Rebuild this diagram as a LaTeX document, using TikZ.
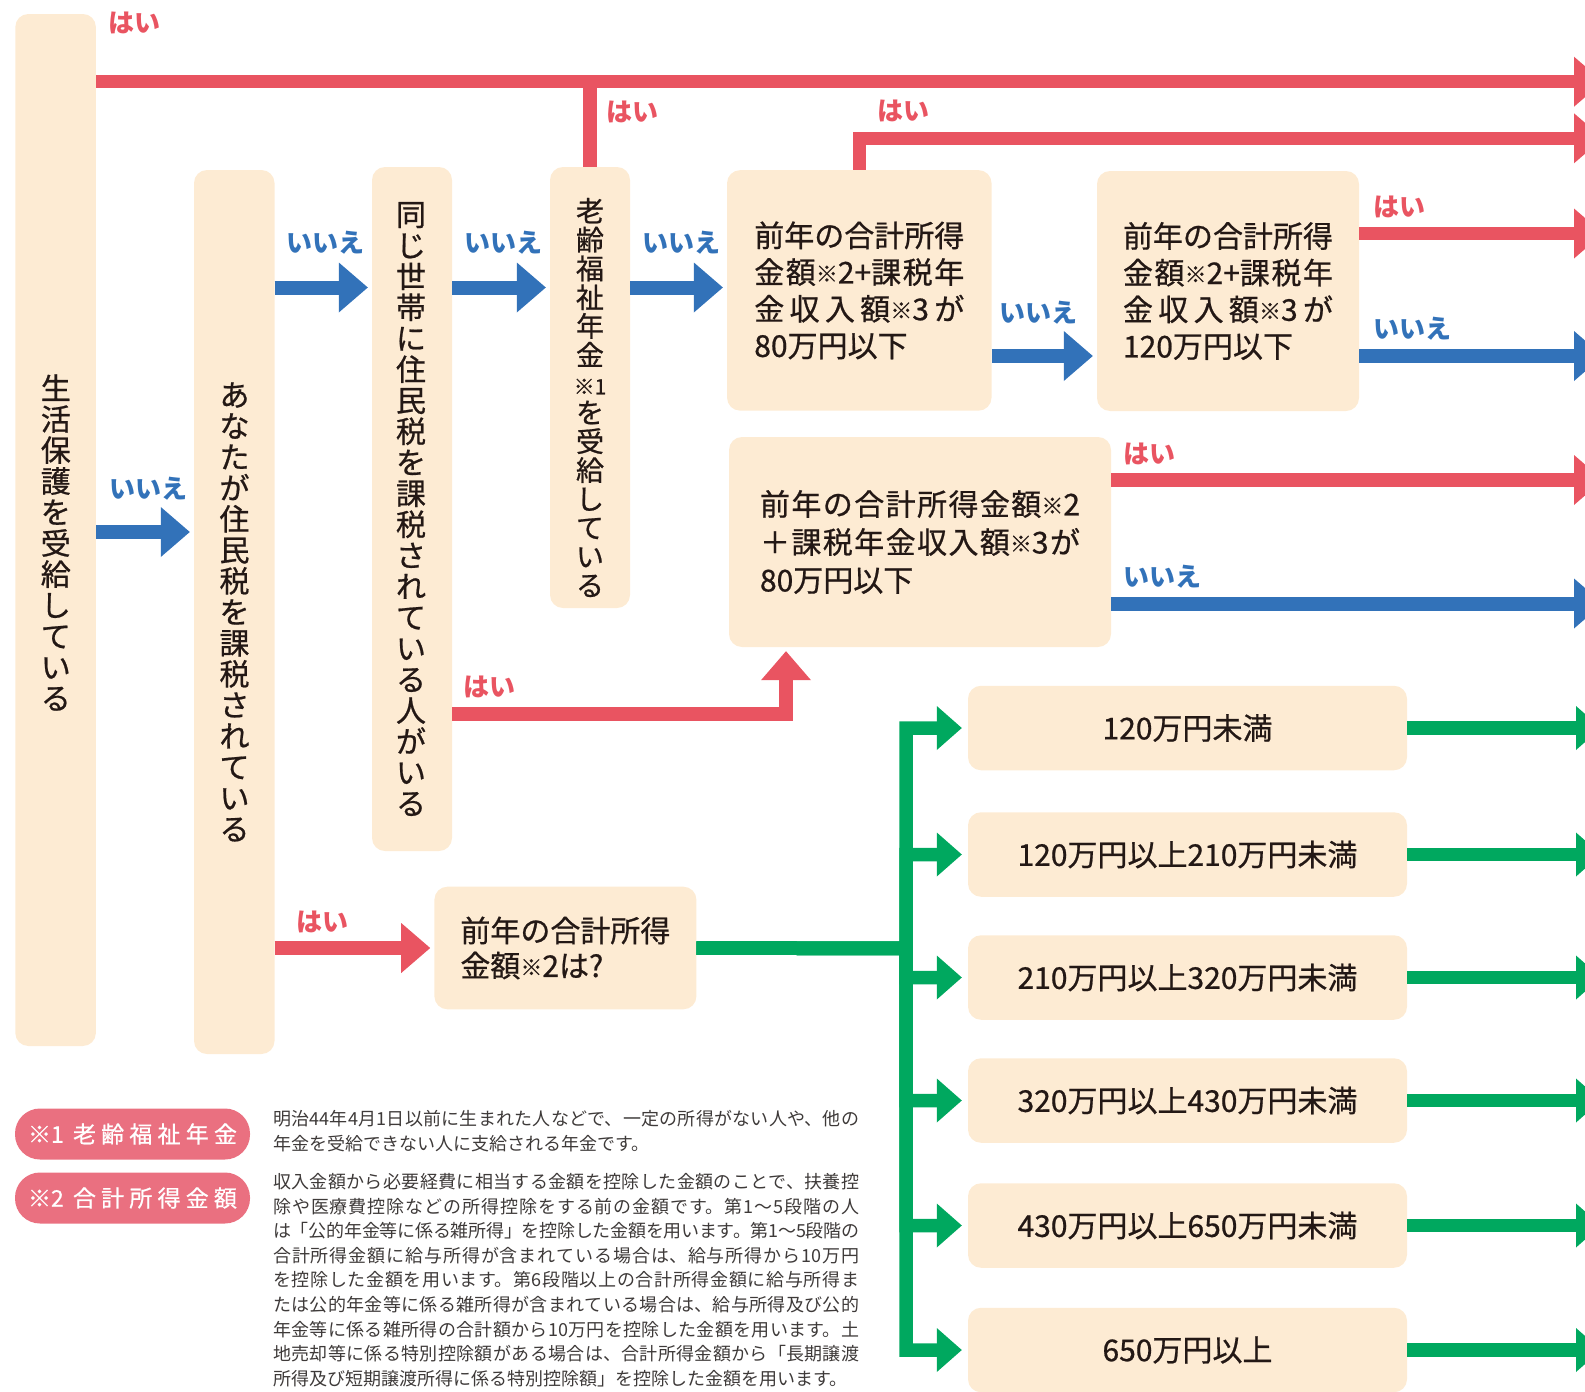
\documentclass[tikz,border=0pt]{standalone}
\usepackage{fontspec}
\setmainfont{Noto Sans CJK JP}
\newfontfamily\med{Noto Sans CJK JP}[FakeBold=0.7]
\usetikzlibrary{arrows.meta}
\definecolor{cred}{HTML}{E95461}
\definecolor{cblue}{HTML}{3272B9}
\definecolor{cgreen}{HTML}{00A85F}
\definecolor{ccream}{HTML}{FDEBD3}
\definecolor{cpill}{HTML}{EA7080}
\definecolor{ctext}{HTML}{231815}
\definecolor{cnote}{HTML}{3E3A39}
\newcommand\fs[2]{\fontsize{#1}{#2}\selectfont}
\newcommand\kome{\raisebox{1.5pt}{\fontsize{22}{22}\selectfont ※}}
\newcommand\jpar[4]{\parbox[t]{#1}{\fs{#2}{#3}\XeTeXlinebreaklocale "ja"\XeTeXlinebreakskip=0pt plus 12pt minus 1.5pt\relax\parindent=0pt\tolerance=10000\hbadness=10000\hfuzz=8pt\emergencystretch=0pt\relax #4}}
\tikzset{
 cbox/.style={fill=ccream, rounded corners=13pt, inner sep=0pt, text=ctext, font=\med},
 vtxt/.style={align=center, inner sep=0pt, text=ctext, font=\med\fs{30}{31}},
 lbl/.style={inner sep=0pt, font=\bfseries\fs{26}{26}},
 rlbl/.style={lbl, text=cred},
 blbl/.style={lbl, text=cblue},
 redline/.style={draw=cred, line width=13.5pt},
 redarr/.style={redline, -{Triangle[width=50pt,length=29pt,line width=0pt]}, shorten >=4pt},
 bluearr/.style={draw=cblue, line width=14pt, -{Triangle[width=50pt,length=29pt,line width=0pt]}, shorten >=4pt},
 greenarr/.style={draw=cgreen, line width=13.5pt, -{Triangle[width=44pt,length=25pt,line width=0pt]}, shorten >=6pt},
 hbox/.style={cbox, minimum width=439pt, minimum height=84.5pt, font=\med\fs{30}{30}},
 pill/.style={fill=cpill, rounded corners=25pt, minimum width=235pt, minimum height=51pt, inner sep=0pt, text=white, font=\med\fs{23}{23}},
}
\begin{document}
\begin{tikzpicture}[x=1pt,y=-1pt]
\useasboundingbox (0,0) rectangle (1585,1392);
\clip (0,0) rectangle (1585,1392);
% boxes
\node[cbox, minimum width=80.6pt, minimum height=1032pt] (A) at (55.6,530) {};
\node[cbox, minimum width=80.5pt, minimum height=884pt] (B) at (234.25,612) {};
\node[cbox, minimum width=80pt, minimum height=684pt] (C) at (412,509) {};
\node[cbox, minimum width=80pt, minimum height=441pt] (D) at (590,387.5) {};
\node[vtxt] (At) at (55.8,542.5) {生\\活\\保\\護\\を\\受\\給\\し\\て\\い\\る};
\node[vtxt] (Bt) at (234.5,612) {あ\\な\\た\\が\\住\\民\\税\\を\\課\\税\\さ\\れ\\て\\い\\る};
\node[vtxt] (Ct) at (411,509) {同\\じ\\世\\帯\\に\\住\\民\\税\\を\\課\\税\\さ\\れ\\て\\い\\る\\人\\が\\い\\る};
\node[vtxt, font=\med\fs{28}{28.8}] (Dt) at (590,397.5) {老\\齢\\福\\祉\\年\\金\\{\fs{21}{21}※1}\\を\\受\\給\\し\\て\\い\\る};
\node[cbox, minimum width=264.5pt, minimum height=240.5pt] (E) at (859.3,290.4) {\jpar{210pt}{30}{36.7}{前年の合計所得\linebreak 金額\kome 2+課税年\linebreak 金収入額\kome 3が\linebreak 80万円以下}};
\node[cbox, minimum width=262pt, minimum height=240pt] (F) at (1228,291) {\jpar{210pt}{30}{36.7}{前年の合計所得\linebreak 金額\kome 2+課税年\linebreak 金収入額\kome 3が\linebreak 120万円以下}};
\node[cbox, minimum width=382pt, minimum height=210pt] (G) at (920,542) {\jpar{320pt}{30}{38}{前年の合計所得金額\kome 2\linebreak ＋課税年金収入額\kome 3が\linebreak 80万円以下}};
\node[cbox, minimum width=262pt, minimum height=122.6pt] (I) at (565.4,948) {\jpar{210pt}{30}{35}{前年の合計所得\linebreak 金額\kome 2は?}};
\node[hbox] (H1) at (1187.5,728) {120万円未満};
\node[hbox] (H2) at (1187.5,854.5) {120万円以上210万円未満};
\node[hbox] (H3) at (1187.5,977.5) {210万円以上320万円未満};
\node[hbox] (H4) at (1187.5,1100.5) {320万円以上430万円未満};
\node[hbox] (H5) at (1187.5,1225.5) {430万円以上650万円未満};
\node[hbox] (H6) at (1187.5,1350) {650万円以上};
% helper coordinates
\coordinate (yAB) at (0,532);
\coordinate (yBC) at (0,287.5);
\coordinate (yEF) at (0,356);
\coordinate (cg) at (786,714);
\coordinate (o1) at (1607,81.7);
\coordinate (o2) at (1607,138.3);
\coordinate (o3) at (1607,233.5);
\coordinate (o4) at (1607,356);
\coordinate (o5) at (1607,480);
\coordinate (o6) at (1607,603.5);
\coordinate (og) at (1607,0);
\coordinate (tr) at (906,948.5);
% connectors
\draw[redline] (D.north) -- (D.north |- o1);
\draw[redarr] (A.east |- o1) -- (o1);
\draw[redarr] (E.north) |- (o2);
\draw[bluearr] (A.east |- yAB) -- (B.west |- yAB);
\draw[bluearr] (B.east |- yBC) -- (C.west |- yBC);
\draw[bluearr] (C.east |- yBC) -- (D.west |- yBC);
\draw[bluearr] (D.east |- yBC) -- (E.west |- yBC);
\draw[bluearr] (E.east |- yEF) -- (F.west |- yEF);
\draw[redarr] (F.east |- o3) -- (o3);
\draw[bluearr] (F.east |- o4) -- (o4);
\draw[redarr] (G.east |- o5) -- (o5);
\draw[bluearr] (G.east |- o6) -- (o6);
\draw[redarr] (C.east |- cg) -| (G.south -| cg);
\draw[redarr] (B.east |- I.west) -- (I.west);
\foreach \h in {H1,H2,H3,H4,H5,H6}{
  \draw[greenarr] (I.east) -- (tr) |- (\h.west);
  \draw[greenarr] (\h.east) -- (\h.east -| og);
}
% labels
\node[rlbl] (l1) at (134.7,23.3) {はい};
\node[rlbl] (l2) at (632,111.7) {はい};
\node[rlbl] (l3) at (903,111) {はい};
\node[rlbl] (l4) at (1399,206.7) {はい};
\node[blbl] (l5) at (1412,329) {いいえ};
\node[rlbl] (l6) at (1149.8,454) {はい};
\node[blbl] (l7) at (1162.7,576.7) {いいえ};
\node[blbl] (l8) at (148,489) {いいえ};
\node[blbl] (l9) at (325.8,242.5) {いいえ};
\node[blbl] (l10) at (503,242.5) {いいえ};
\node[blbl] (l11) at (681,242.5) {いいえ};
\node[blbl] (l12) at (1038,312.5) {いいえ};
\node[rlbl] (l13) at (489,686.7) {はい};
\node[rlbl] (l14) at (322,921.7) {はい};
% footnotes
\node[pill] (P1) at (132.5,1134) {\makebox[209pt][s]{※1\hfil\hskip4pt 老\hfil 齢\hfil 福\hfil 祉\hfil 年\hfil 金}};
\node[pill] (P2) at (132.5,1198) {\makebox[209pt][s]{※2\hfil\hskip4pt 合\hfil 計\hfil 所\hfil 得\hfil 金\hfil 額}};
\node[anchor=base west, inner sep=0pt, text=cnote] (N1) at (273,1125) {\jpar{586pt}{18}{25}{明治44年4月1日以前に生まれた人などで、一定の所得がない人や、他の\linebreak 年金を受給できない人に支給される年金です。}};
\node[anchor=base west, inner sep=0pt, text=cnote] (N2) at (273,1188.5) {\jpar{586pt}{18}{24.6}{収入金額から必要経費に相当する金額を控除した金額のことで、扶養控\linebreak 除や医療費控除などの所得控除をする前の金額です。第1～5段階の人\linebreak は「公的年金等に係る雑所得」を控除した金額を用います。第1～5段階の\linebreak 合計所得金額に給与所得が含まれている場合は、給与所得から10万円\linebreak を控除した金額を用います。第6段階以上の合計所得金額に給与所得ま\linebreak たは公的年金等に係る雑所得が含まれている場合は、給与所得及び公的\linebreak 年金等に係る雑所得の合計額から10万円を控除した金額を用います。土\linebreak 地売却等に係る特別控除額がある場合は、合計所得金額から「長期譲渡\linebreak 所得及び短期譲渡所得に係る特別控除額」を控除した金額を用います。}};
\end{tikzpicture}
\end{document}
